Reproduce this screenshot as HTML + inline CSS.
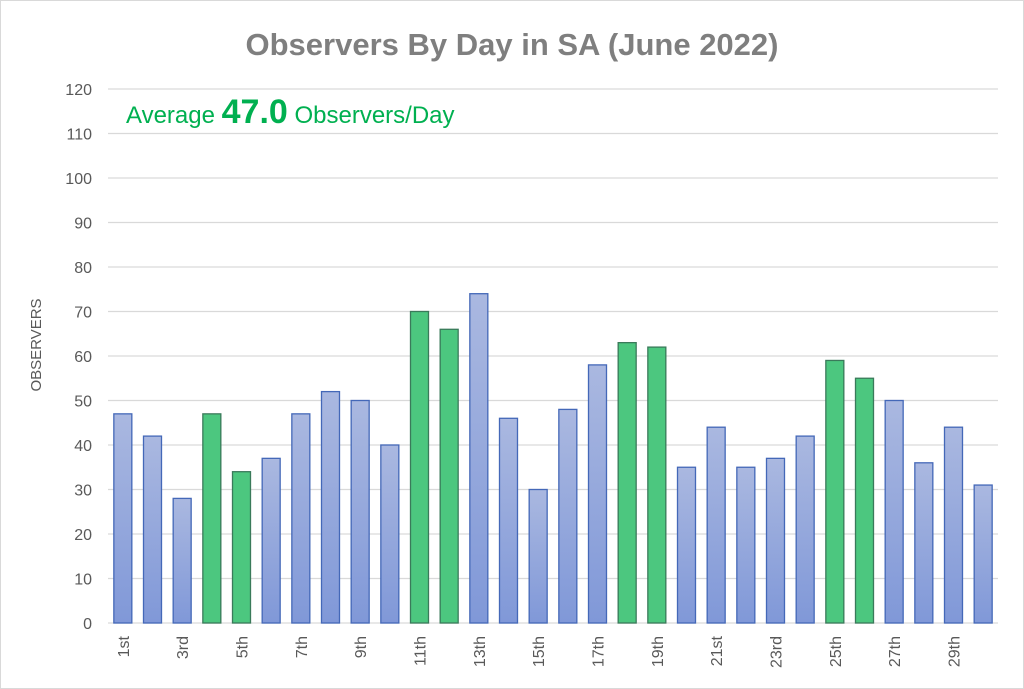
<!DOCTYPE html>
<html><head><meta charset="utf-8"><style>
body{margin:0;background:#fff;}
svg{display:block;font-family:"Liberation Sans",Calibri,sans-serif;}
</style></head><body>
<svg id="chart" width="1024" height="689" viewBox="0 0 1024 689">
<defs>
<linearGradient id="blueG" x1="0" y1="0" x2="0" y2="1"><stop offset="0" stop-color="#aab8e0"/><stop offset="1" stop-color="#8098d8"/></linearGradient>
</defs>
<rect x="0.5" y="0.5" width="1023" height="688" fill="#fff" stroke="#d9d9d9"/>
<text x="512" y="55" text-anchor="middle" font-size="31" font-weight="bold" fill="#7f7f7f">Observers By Day in SA (June 2022)</text>
<text x="126" y="123" font-size="24" fill="#00b050">Average <tspan font-size="34" font-weight="bold">47.0</tspan> Observers/Day</text>
<text transform="translate(41,345) rotate(-90)" text-anchor="middle" font-size="15" fill="#595959">OBSERVERS</text>
<g id="grid"></g><g id="bars"></g><g id="labels"></g>
</svg>
<script>
const categories=["1st","2nd","3rd","4th","5th","6th","7th","8th","9th","10th","11th","12th","13th","14th","15th","16th","17th","18th","19th","20th","21st","22nd","23rd","24th","25th","26th","27th","28th","29th","30th"];
const values=[47,42,28,47,34,37,47,52,50,40,70,66,74,46,30,48,58,63,62,35,44,35,37,42,59,55,50,36,44,31];
const weekend=[false,false,false,true,true,false,false,false,false,false,true,true,false,false,false,false,false,true,true,false,false,false,false,false,true,true,false,false,false,false];
const yTicks=[0,10,20,30,40,50,60,70,80,90,100,110,120];
const NS="http://www.w3.org/2000/svg";
const L=108,R=998,T=89,B=623,yMax=120;
const y=v=>B-(v/yMax)*(B-T);
const band=(R-L)/categories.length;
const x=i=>L+band*(i+0.5);
const grid=document.getElementById('grid'),bars=document.getElementById('bars'),labels=document.getElementById('labels');
yTicks.forEach(t=>{
 const ln=document.createElementNS(NS,'line');
 
 
 ln.setAttribute('x1',L);ln.setAttribute('x2',R);ln.setAttribute('y1',y(t));ln.setAttribute('y2',y(t));
 ln.setAttribute('stroke','#d9d9d9');ln.setAttribute('stroke-width','1.3');
 grid.appendChild(ln);
 const tx=document.createElementNS(NS,'text');
 
 
 tx.setAttribute('x',92);tx.setAttribute('y',y(t)+6);tx.setAttribute('text-anchor','end');
 tx.setAttribute('font-size','16');tx.setAttribute('fill','#595959');tx.textContent=t;
 grid.appendChild(tx);
});
const bw=18;
values.forEach((v,i)=>{
 const r=document.createElementNS(NS,'rect');
 
 
 r.setAttribute('x',x(i)-bw/2);r.setAttribute('y',y(v));r.setAttribute('width',bw);r.setAttribute('height',B-y(v));
 r.setAttribute('fill',weekend[i]?'#4cc77f':'url(#blueG)');
 r.setAttribute('stroke',weekend[i]?'#3a7a5a':'#4468b8');r.setAttribute('stroke-width','1.3');
 bars.appendChild(r);
 if(i%2===0){
  const tx=document.createElementNS(NS,'text');
  
  
  tx.setAttribute('transform','translate('+(x(i)+6)+',636) rotate(-90)');
  tx.setAttribute('text-anchor','end');tx.setAttribute('font-size','16');tx.setAttribute('fill','#595959');
  tx.textContent=categories[i];
  labels.appendChild(tx);
 }
});
</script>
</body></html>
